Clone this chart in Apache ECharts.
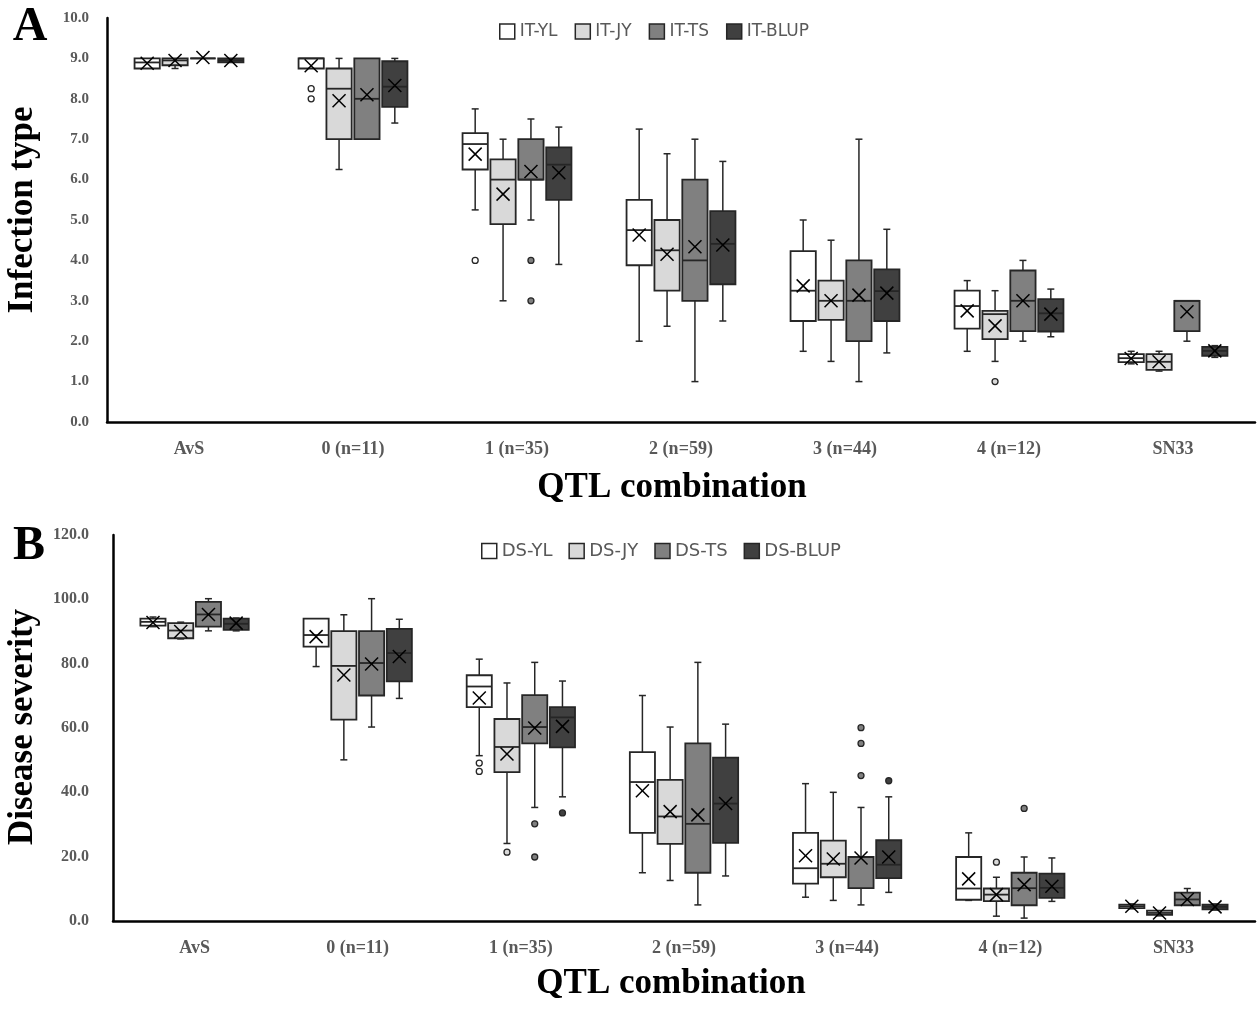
<!DOCTYPE html>
<html>
<head>
<meta charset="utf-8">
<title>QTL combination box plots</title>
<script src="https://cdn.jsdelivr.net/npm/echarts@6/dist/echarts.min.js"></script>
<style>
  html, body { margin: 0; padding: 0; background: #fff; }
  #chart { width: 1258px; height: 1010px; }
</style>
</head>
<body>
<div id="chart"></div>
<script>
// categories on x
var categories = ['AvS', '0 (n=11)', '1 (n=35)', '2 (n=59)', '3 (n=44)', '4 (n=12)', 'SN33'];
var itNames = ['IT-YL', 'IT-JY', 'IT-TS', 'IT-BLUP'];
var dsNames = ['DS-YL', 'DS-JY', 'DS-TS', 'DS-BLUP'];
var itTicks = [0, 10, 1];
var dsTicks = [0, 120, 20];

// one row per category: [min, Q1, median, Q3, max, mean]
var itYL = [
  [8.75, 8.75, 8.9, 9.0, 9.0, 8.88],
  [8.75, 8.75, 9.0, 9.0, 9.0, 8.82],
  [5.25, 6.25, 6.88, 7.15, 7.75, 6.63],
  [2.0, 3.88, 4.75, 5.5, 7.25, 4.63],
  [1.75, 2.5, 3.25, 4.23, 5.0, 3.37],
  [1.75, 2.31, 2.87, 3.25, 3.5, 2.75],
  [1.44, 1.48, 1.58, 1.68, 1.75, 1.57]
];
var itJY = [
  [8.75, 8.83, 8.95, 9.0, 9.0, 8.95],
  [6.25, 7.0, 8.25, 8.75, 9.0, 7.95],
  [3.0, 4.9, 6.0, 6.5, 7.0, 5.64],
  [2.37, 3.25, 4.25, 5.0, 6.64, 4.15],
  [1.5, 2.53, 3.0, 3.5, 4.5, 3.0],
  [1.5, 2.05, 2.67, 2.75, 3.25, 2.38],
  [1.26, 1.29, 1.49, 1.68, 1.75, 1.49]
];
var itTS = [
  [9.0, 9.0, 9.0, 9.0, 9.0, 9.02],
  [7.0, 7.0, 8.0, 9.0, 9.0, 8.1],
  [5.0, 6.0, 6.0, 7.0, 7.5, 6.2],
  [1.0, 3.0, 4.0, 6.0, 7.0, 4.34],
  [1.0, 2.0, 3.0, 4.0, 7.0, 3.14],
  [2.0, 2.25, 3.0, 3.75, 4.0, 3.0],
  [2.0, 2.25, 3.0, 3.0, 3.0, 2.73]
];
var itBLUP = [
  [8.9, 8.9, 8.95, 9.0, 9.0, 8.95],
  [7.4, 7.8, 8.3, 8.93, 9.0, 8.33],
  [3.9, 5.5, 6.37, 6.8, 7.3, 6.17],
  [2.5, 3.41, 4.41, 5.22, 6.45, 4.38],
  [1.71, 2.5, 3.24, 3.78, 4.77, 3.19],
  [2.11, 2.24, 2.69, 3.04, 3.29, 2.67],
  [1.6, 1.64, 1.76, 1.86, 1.89, 1.76]
];
var dsYL = [
  [91.5, 91.8, 93.0, 94.0, 94.5, 92.8],
  [79.1, 85.3, 88.9, 94.0, 94.0, 88.4],
  [51.4, 66.5, 72.9, 76.4, 81.4, 69.3],
  [15.0, 27.4, 43.2, 52.5, 70.1, 40.5],
  [7.4, 11.6, 16.4, 27.4, 42.7, 20.3],
  [6.4, 6.6, 10.1, 19.9, 27.4, 13.1],
  [3.8, 4.0, 4.6, 5.1, 5.3, 4.6]
];
var dsJY = [
  [87.7, 87.9, 90.3, 92.6, 92.9, 90.0],
  [50.1, 62.6, 79.3, 90.1, 95.2, 76.5],
  [24.1, 46.3, 54.1, 62.8, 74.0, 51.9],
  [12.6, 24.0, 32.5, 43.9, 60.3, 34.0],
  [6.4, 13.6, 17.8, 25.0, 40.0, 19.3],
  [1.5, 6.2, 8.2, 10.1, 13.6, 8.2],
  [1.6, 1.9, 2.5, 3.2, 3.3, 2.5]
];
var dsTS = [
  [90.2, 91.5, 95.3, 99.2, 100.2, 95.3],
  [60.3, 70.1, 80.2, 90.1, 100.2, 79.9],
  [35.3, 55.2, 60.3, 70.2, 80.4, 60.0],
  [5.0, 15.0, 30.2, 55.2, 80.4, 33.0],
  [5.0, 10.2, 19.9, 19.9, 35.3, 19.6],
  [0.9, 4.9, 10.2, 15.0, 19.9, 11.3],
  [4.9, 4.9, 6.7, 8.8, 10.1, 6.7]
];
var dsBLUP = [
  [90.2, 90.5, 92.4, 94.0, 94.2, 92.6],
  [69.2, 74.5, 83.3, 90.8, 93.8, 82.2],
  [38.6, 54.0, 63.3, 66.5, 74.6, 60.5],
  [14.0, 24.3, 36.5, 50.8, 61.2, 36.5],
  [8.9, 13.3, 17.5, 25.1, 38.6, 19.9],
  [6.1, 7.2, 10.3, 14.7, 19.6, 10.8],
  [3.4, 3.6, 4.4, 5.1, 5.3, 4.4]
];

// outliers: [category index, value]
var itYLOut = [[1, 8.0], [1, 8.25], [2, 4.0]];
var itJYOut = [[5, 1.0]];
var itTSOut = [[2, 4.0], [2, 3.0]];
var itBLUPOut = [];
var dsYLOut = [[2, 49.1], [2, 46.5]];
var dsJYOut = [[2, 21.4], [5, 18.3]];
var dsTSOut = [[2, 30.2], [2, 19.9], [4, 60.1], [4, 55.2], [4, 45.2], [5, 35.0]];
var dsBLUPOut = [[2, 33.6], [4, 43.6]];

var fills = ['#ffffff', '#d9d9d9', '#808080', '#404040'];
var edge = '#262626';
var tickColor = '#595959';
var serif = '"Liberation Serif", "Times New Roman", serif';

function boxRenderer(slot, fill) {
  return function (params, api) {
    var cat = api.value(0);
    var band = api.size([1, 0])[0];
    var cx = api.coord([cat, 0])[0] + (slot - 1.5) * band * 0.17;
    var half = band * 0.077;
    var cap = 3.5;
    var y = function (dim) { return api.coord([cat, api.value(dim)])[1]; };
    var yMin = y(1), yQ1 = y(2), yMed = y(3), yQ3 = y(4), yMax = y(5), yMean = y(6);
    var ln = { stroke: edge, lineWidth: 1.5 };
    var kids = [];
    if (yMin - yQ1 > 0.5) {
      kids.push({ type: 'line', shape: { x1: cx, y1: yQ1, x2: cx, y2: yMin }, style: ln });
      kids.push({ type: 'line', shape: { x1: cx - cap, y1: yMin, x2: cx + cap, y2: yMin }, style: ln });
    }
    if (yQ3 - yMax > 0.5) {
      kids.push({ type: 'line', shape: { x1: cx, y1: yMax, x2: cx, y2: yQ3 }, style: ln });
      kids.push({ type: 'line', shape: { x1: cx - cap, y1: yMax, x2: cx + cap, y2: yMax }, style: ln });
    }
    kids.push({ type: 'rect', shape: { x: cx - half, y: yQ3, width: half * 2, height: yQ1 - yQ3 },
      style: { fill: fill, stroke: edge, lineWidth: 1.8 } });
    kids.push({ type: 'line', shape: { x1: cx - half, y1: yMed, x2: cx + half, y2: yMed },
      style: { stroke: edge, lineWidth: 1.8 } });
    var m = 6.5;
    kids.push({ type: 'line', shape: { x1: cx - m, y1: yMean - m, x2: cx + m, y2: yMean + m }, style: { stroke: '#000', lineWidth: 1.5 } });
    kids.push({ type: 'line', shape: { x1: cx - m, y1: yMean + m, x2: cx + m, y2: yMean - m }, style: { stroke: '#000', lineWidth: 1.5 } });
    return { type: 'group', children: kids };
  };
}

function outlierRenderer(slot, fill) {
  return function (params, api) {
    var band = api.size([1, 0])[0];
    var p = api.coord([api.value(0), api.value(1)]);
    return { type: 'circle', shape: { cx: p[0] + (slot - 1.5) * band * 0.17, cy: p[1], r: 3 },
      style: { fill: fill, stroke: edge, lineWidth: 1.3 } };
  };
}

function boxSeries(name, rows, slot, axisIdx) {
  return {
    name: name,
    type: 'custom',
    xAxisIndex: axisIdx,
    yAxisIndex: axisIdx,
    renderItem: boxRenderer(slot, fills[slot]),
    itemStyle: { color: fills[slot], borderColor: edge, borderWidth: 1.5 },
    encode: { x: 0, y: [1, 2, 3, 4, 5, 6] },
    data: rows.map(function (r, i) { return [i].concat(r); }),
    clip: false
  };
}

function outlierSeries(name, pts, slot, axisIdx) {
  return {
    name: name,
    type: 'custom',
    xAxisIndex: axisIdx,
    yAxisIndex: axisIdx,
    renderItem: outlierRenderer(slot, fills[slot]),
    itemStyle: { color: fills[slot], borderColor: edge, borderWidth: 1.5 },
    encode: { x: 0, y: 1 },
    data: pts,
    clip: false
  };
}

function legendData(names) {
  return names.map(function (n, i) {
    return { name: n, icon: 'rect', itemStyle: { color: fills[i], borderColor: edge, borderWidth: 1.5 } };
  });
}

function xAxisFor(gridIdx) {
  return {
    type: 'category',
    gridIndex: gridIdx,
    data: categories,
    axisLine: { lineStyle: { color: '#000', width: 2.5 } },
    axisTick: { show: false },
    axisLabel: { interval: 0, margin: 18, fontFamily: serif, fontWeight: 'bold', fontSize: 18, color: tickColor },
    splitLine: { show: false }
  };
}

function yAxisFor(gridIdx, ticks, margin, size) {
  return {
    type: 'value',
    gridIndex: gridIdx,
    min: ticks[0],
    max: ticks[1],
    interval: ticks[2],
    axisLine: { show: true, lineStyle: { color: '#000', width: 2.5 } },
    axisTick: { show: false },
    splitLine: { show: false },
    axisLabel: {
      margin: margin, fontFamily: serif, fontWeight: 'bold', fontSize: size, color: tickColor,
      formatter: function (v) { return v.toFixed(1); }
    }
  };
}

var series = [];
var itRows = [itYL, itJY, itTS, itBLUP];
var itOut = [itYLOut, itJYOut, itTSOut, itBLUPOut];
var dsRows = [dsYL, dsJY, dsTS, dsBLUP];
var dsOut = [dsYLOut, dsJYOut, dsTSOut, dsBLUPOut];
for (var i = 0; i < 4; i++) {
  series.push(boxSeries(itNames[i], itRows[i], i, 0));
  series.push(outlierSeries(itNames[i], itOut[i], i, 0));
  series.push(boxSeries(dsNames[i], dsRows[i], i, 1));
  series.push(outlierSeries(dsNames[i], dsOut[i], i, 1));
}

var chart = echarts.init(document.getElementById('chart'));
chart.setOption({
  animation: false,
  backgroundColor: '#fff',
  grid: [
    { left: 107, top: 18, width: 1148, height: 404 },
    { left: 113, top: 535, width: 1142, height: 386 }
  ],
  legend: [
    {
      data: legendData(itNames), left: 499, top: 23, padding: 0,
      itemWidth: 15, itemHeight: 15, itemGap: 17,
      textStyle: { fontFamily: 'DejaVu Sans', fontSize: 17, color: tickColor }
    },
    {
      data: legendData(dsNames), left: 481, top: 542, padding: 0,
      itemWidth: 15, itemHeight: 15, itemGap: 16,
      textStyle: { fontFamily: 'DejaVu Sans', fontSize: 18, color: tickColor }
    }
  ],
  xAxis: [xAxisFor(0), xAxisFor(1)],
  yAxis: [yAxisFor(0, itTicks, 18, 15), yAxisFor(1, dsTicks, 24, 16)],
  graphic: [
    { type: 'text', x: 30, y: 28, style: { text: 'A', font: 'bold 48px ' + serif, fill: '#000', align: 'center', verticalAlign: 'middle' } },
    { type: 'text', x: 29, y: 547, style: { text: 'B', font: 'bold 48px ' + serif, fill: '#000', align: 'center', verticalAlign: 'middle' } },
    { type: 'text', x: 23, y: 210, rotation: Math.PI / 2, style: { text: 'Infection type', font: 'bold 35px ' + serif, fill: '#000', align: 'center', verticalAlign: 'middle' } },
    { type: 'text', x: 23, y: 727, rotation: Math.PI / 2, style: { text: 'Disease severity', font: 'bold 35px ' + serif, fill: '#000', align: 'center', verticalAlign: 'middle' } },
    { type: 'text', x: 672, y: 488, style: { text: 'QTL combination', font: 'bold 35px ' + serif, fill: '#000', align: 'center', verticalAlign: 'middle' } },
    { type: 'text', x: 671, y: 984, style: { text: 'QTL combination', font: 'bold 35px ' + serif, fill: '#000', align: 'center', verticalAlign: 'middle' } }
  ],
  series: series
});
</script>
</body>
</html>
